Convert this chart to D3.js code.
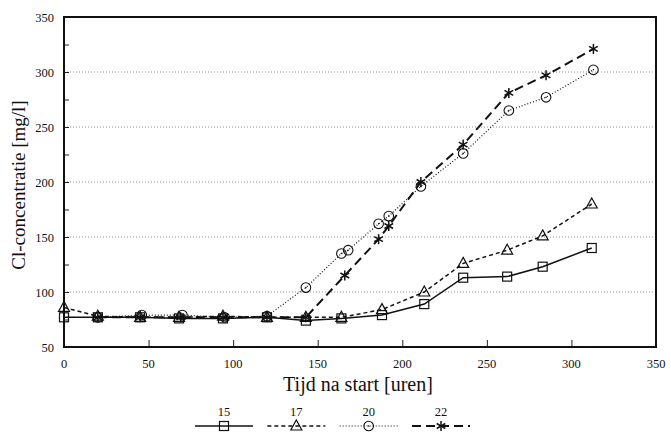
<!DOCTYPE html>
<html>
<head>
<meta charset="utf-8">
<script src="https://cdn.jsdelivr.net/npm/d3@7"></script>
<style>
  body { margin: 0; background: #fff; }
  svg text { font-family: "Liberation Serif", "DejaVu Serif", serif; fill: #111; }
</style>
</head>
<body>
<svg id="chart" width="671" height="434"></svg>
<script>
// readings
const t15 = [0, 20, 45, 68, 94, 120, 143, 164, 188, 213, 236, 262, 283, 312];
const v15 = [77, 77, 77, 76, 76, 77, 74, 76, 79, 89, 113, 114, 123, 140];
const t17 = [0, 20, 45, 68, 94, 120, 143, 164, 188, 213, 236, 262, 283, 312];
const v17 = [86, 78, 77, 77, 78, 77, 77, 77, 84, 100, 126, 138, 151, 180];
const t20 = [20, 46, 70, 95, 120, 143, 164, 168, 186, 192, 211, 236, 263, 285, 313];
const v20 = [77, 79, 79, 77, 78, 104, 135, 138, 162, 169, 196, 226, 265, 277, 302];
const t22 = [20, 45, 69, 94, 120, 143, 166, 186, 192, 211, 236, 263, 285, 313];
const v22 = [77, 77, 77, 77, 77, 77, 115, 148, 160, 200, 234, 281, 297, 321];
const seriesNames = ["15", "17", "20", "22"];
const xTicks = [0, 50, 100, 150, 200, 250, 300, 350];
const yTicks = [50, 100, 150, 200, 250, 300, 350];

const series = [
  {name: "15", t: t15, v: v15, dash: null, sym: "square"},
  {name: "17", t: t17, v: v17, dash: "4,3", sym: "triangle"},
  {name: "20", t: t20, v: v20, dash: "1,2", sym: "circle"},
  {name: "22", t: t22, v: v22, dash: "9,5", sym: "star"}
];

const svg = d3.select("#chart");
const plotL = 64, plotR = 656, plotT = 17, plotB = 347;

const x = d3.scaleLinear().domain([0, 350]).range([plotL, plotR]);
const y = d3.scaleLinear().domain([50, 350]).range([plotB, plotT]);

// dotted gridlines
svg.append("g")
  .selectAll("line")
  .data(yTicks.filter(d => d > 50 && d < 350))
  .enter().append("line")
  .attr("x1", plotL).attr("x2", plotR)
  .attr("y1", d => y(d)).attr("y2", d => y(d))
  .attr("stroke", "#777").attr("stroke-width", 0.8)
  .attr("stroke-dasharray", "1,2");

// inward ticks
svg.append("g")
  .attr("transform", `translate(0,${plotB})`)
  .call(d3.axisBottom(x).tickValues(xTicks.slice(1, -1)).tickSize(-7).tickFormat(""))
  .call(g => g.select(".domain").remove())
  .selectAll("line").attr("stroke", "#222");

svg.append("g")
  .attr("transform", `translate(${plotL},0)`)
  .call(d3.axisLeft(y).tickValues(d3.range(75, 350, 25)).tickSize(-5).tickFormat(""))
  .call(g => g.select(".domain").remove())
  .selectAll("line").attr("stroke", "#222");

// tick labels
svg.append("g").selectAll("text")
  .data(xTicks).enter().append("text")
  .attr("x", d => x(d)).attr("y", 368)
  .attr("text-anchor", "middle")
  .attr("font-size", 12.5)
  .text(d => d);

svg.append("g").selectAll("text")
  .data(yTicks).enter().append("text")
  .attr("x", 54).attr("y", d => y(d) + 4.5)
  .attr("text-anchor", "end")
  .attr("font-size", 12.5)
  .text(d => d);

// frame
svg.append("rect")
  .attr("x", plotL).attr("y", plotT)
  .attr("width", plotR - plotL).attr("height", plotB - plotT)
  .attr("fill", "none").attr("stroke", "#111").attr("stroke-width", 2);

// axis titles
svg.append("text")
  .attr("x", 358).attr("y", 391)
  .attr("text-anchor", "middle")
  .attr("font-size", 20)
  .text("Tijd na start [uren]");

svg.append("text")
  .attr("transform", `translate(25,185) rotate(-90)`)
  .attr("text-anchor", "middle")
  .attr("font-size", 19)
  .text("Cl-concentratie [mg/l]");

function drawSymbol(g, sym, cx, cy) {
  if (sym === "square") {
    g.append("rect").attr("x", cx - 4.5).attr("y", cy - 4.5).attr("width", 9).attr("height", 9)
      .attr("fill", "none").attr("stroke", "#111").attr("stroke-width", 1.2);
  } else if (sym === "triangle") {
    g.append("path").attr("d", `M${cx},${cy - 6}L${cx + 5.5},${cy + 4}L${cx - 5.5},${cy + 4}Z`)
      .attr("fill", "none").attr("stroke", "#111").attr("stroke-width", 1.2);
  } else if (sym === "circle") {
    g.append("circle").attr("cx", cx).attr("cy", cy).attr("r", 4.8)
      .attr("fill", "none").attr("stroke", "#111").attr("stroke-width", 1.1);
    g.append("circle").attr("cx", cx).attr("cy", cy).attr("r", 0.8).attr("fill", "#111");
  } else {
    const r = 5;
    [0, 60, 120].forEach(a => {
      const rad = a * Math.PI / 180;
      g.append("line")
        .attr("x1", cx - r * Math.sin(rad)).attr("y1", cy - r * Math.cos(rad))
        .attr("x2", cx + r * Math.sin(rad)).attr("y2", cy + r * Math.cos(rad))
        .attr("stroke", "#111").attr("stroke-width", 1.5);
    });
  }
}

const line = d3.line().x(d => x(d[0])).y(d => y(d[1]));

series.forEach(s => {
  const pts = s.t.map((t, i) => [t, s.v[i]]);
  svg.append("path")
    .datum(pts)
    .attr("d", line)
    .attr("fill", "none")
    .attr("stroke", "#111")
    .attr("stroke-width", s.sym === "star" ? 2 : (s.sym === "circle" ? 1.2 : 1.5))
    .attr("stroke-dasharray", s.dash);
  const g = svg.append("g");
  pts.forEach(p => drawSymbol(g, s.sym, x(p[0]), y(p[1])));
});

// legend
const legendX = d3.scalePoint().domain(seriesNames).range([224, 441]);
series.forEach(s => {
  const cx = legendX(s.name);
  const g = svg.append("g");
  g.append("line")
    .attr("x1", cx - 29).attr("x2", cx + 29)
    .attr("y1", 426).attr("y2", 426)
    .attr("stroke", "#111")
    .attr("stroke-width", s.sym === "star" ? 2 : (s.sym === "circle" ? 1.2 : 1.5))
    .attr("stroke-dasharray", s.dash);
  drawSymbol(g, s.sym, cx, 426);
  g.append("text")
    .attr("x", cx).attr("y", 416)
    .attr("text-anchor", "middle")
    .attr("font-size", 12.5)
    .text(s.name);
});
</script>
</body>
</html>
